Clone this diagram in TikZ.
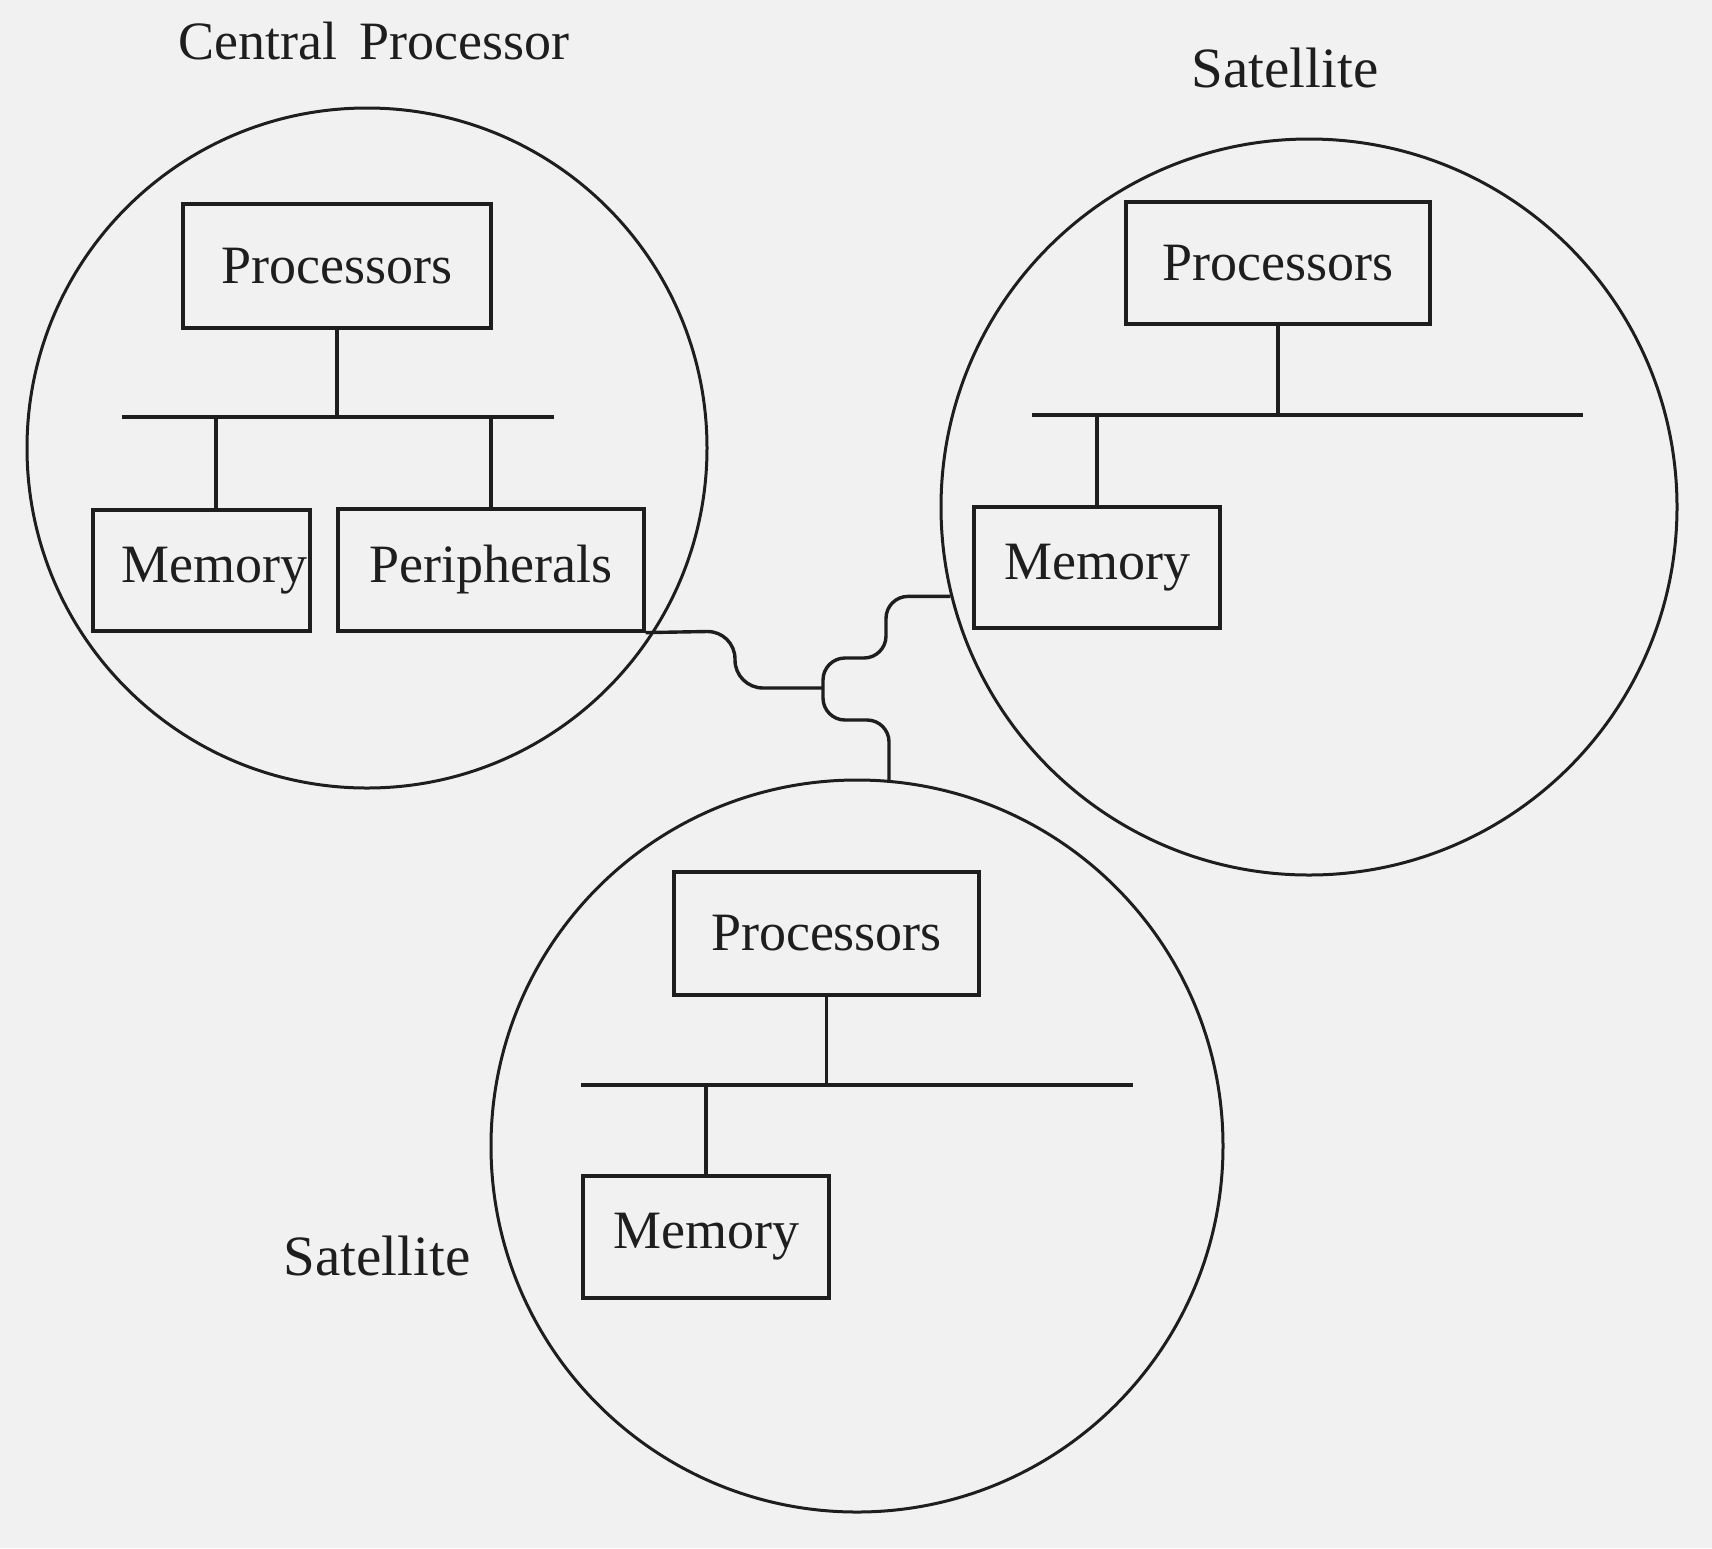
\documentclass[tikz,border=0pt]{standalone}
\usepackage{fontspec}
\setmainfont{Liberation Serif}
\definecolor{bg}{RGB}{241,241,241}
\definecolor{ink}{RGB}{30,30,30}
\begin{document}
\begin{tikzpicture}[x=0.5pt,y=-0.5pt,
  every node/.style={font=\fontsize{27}{32}\selectfont, text=ink},
  unit/.style={draw=ink, line width=1.6pt, rectangle, inner sep=0pt},
  ring/.style={draw=ink, line width=1.5pt, circle, inner sep=0pt},
  wire/.style={draw=ink, line width=1.7pt},
  conn/.style={draw=ink, line width=1.7pt, rounded corners=11pt},
  lbl/.style={inner sep=0pt},
  sat/.style={inner sep=0pt, font=\fontsize{28.5}{34}\selectfont}]
\fill[bg] (0,0) rectangle (1712,1548);
\useasboundingbox (0,0) rectangle (1712,1548);
% circles
\node[ring, minimum size=340pt] (cpC) at (367,448) {};
\node[ring, minimum size=368pt] (trC) at (1309,507) {};
\node[ring, minimum size=366pt] (bC) at (857,1146) {};
% labels
\node[lbl] (cpL) at (374,41) {Central\, Processor};
\node[sat] (trL) at (1285,68) {Satellite};
\node[sat] (bL) at (377,1256) {Satellite};
% central processor
\node[unit, minimum width=154pt, minimum height=62pt] (cpP) at (337,266) {Processors};
\node[unit, text width=106pt, inner xsep=1.25pt, align=right, minimum height=60.5pt] (cpM) at (201.5,570.5) {Memory};
\node[unit, minimum width=153pt, minimum height=61pt] (cpPer) at (491,570) {Peripherals};
\coordinate (cpB1) at (122,417);
\coordinate (cpB2) at (554,417);
\draw[wire] (cpB1) -- (cpB2);
\draw[wire] (cpP.south) -- (cpP.south |- cpB1);
\draw[wire] (216,417) -- (216,510);
\draw[wire] (cpPer.north |- cpB1) -- (cpPer.north);
% top-right satellite
\node[unit, minimum width=152pt, minimum height=61pt] (trP) at (1278,263) {Processors};
\node[unit, minimum width=123pt, minimum height=60.5pt] (trM) at (1097,567.5) {Memory};
\coordinate (trB1) at (1032,415);
\coordinate (trB2) at (1583,415);
\draw[wire] (trB1) -- (trB2);
\draw[wire] (trP.south) -- (trP.south |- trB1);
\draw[wire] (trM.north |- trB1) -- (trM.north);
% bottom satellite
\node[unit, minimum width=152.5pt, minimum height=61.5pt] (bP) at (826.5,933.5) {Processors};
\node[unit, minimum width=123pt, minimum height=61pt] (bM) at (706,1237) {Memory};
\coordinate (bB1) at (581,1085);
\coordinate (bB2) at (1133,1085);
\draw[wire] (bB1) -- (bB2);
\draw[wire] (bP.south) -- (bP.south |- bB1);
\draw[wire] (bM.north |- bB1) -- (bM.north);
% network connectors
\coordinate (J) at (823,688);
\draw[conn, rounded corners=14pt] (cpPer.south east) -- (735,631) -- (735,688) -- (J);
\draw[conn] (J) -- (823,658) -- (886,658) |- (trC.194.3);
\draw[conn] (J) -- (823,720) -| (bC.85.6);
\end{tikzpicture}
\end{document}
